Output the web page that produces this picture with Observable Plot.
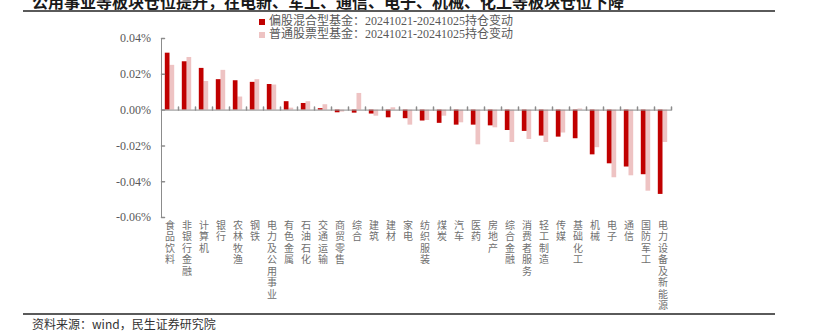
<!DOCTYPE html>
<html>
<head>
<meta charset="utf-8">
<script src="https://cdn.jsdelivr.net/npm/d3@7"></script>
<script src="https://cdn.jsdelivr.net/npm/@observablehq/plot@0.6"></script>
<style>
  body { margin: 0; background: #fff; }
  #wrap { position: relative; width: 822px; height: 333px; overflow: hidden; background: #fff; }
  #title { position: absolute; left: 32px; top: -7px; font: bold 16px/16px "Noto Sans CJK SC", sans-serif; color: #1a1a1a; white-space: nowrap; }
  .rule { position: absolute; left: 23px; width: 752px; height: 2px; background: #5a5a5a; }
  #chart { position: absolute; left: 0; top: 0; }
  .leg { position: absolute; left: 259px; font: 12px/13px "Liberation Serif", "Noto Sans CJK SC", serif; color: #595959; white-space: nowrap; display: flex; align-items: center; }
  .leg i { display: inline-block; width: 6px; height: 6px; margin-right: 4px; }
  #source { position: absolute; left: 32px; top: 317px; font: 12px/14px "Noto Sans CJK SC", sans-serif; color: #333; white-space: nowrap; }
</style>
</head>
<body>
<div id="wrap">
  <div id="title"></div>
  <div class="rule" style="top:10px"></div>
  <div id="chart"></div>
  <div class="leg" id="leg1" style="top:15px"></div>
  <div class="leg" id="leg2" style="top:28px"></div>
  <div class="rule" style="top:313px"></div>
  <div id="source"></div>
</div>
<script>
const titleText = "公用事业等板块仓位提升，在电新、军工、通信、电子、机械、化工等板块仓位下降";
const sourceText = "资料来源：wind，民生证券研究院";
const seriesNames = ["偏股混合型基金：20241021-20241025持仓变动", "普通股票型基金：20241021-20241025持仓变动"];
const seriesColors = ["#C00000", "#EEC3C3"];

const categories = ["食品饮料","非银行金融","计算机","银行","农林牧渔","钢铁","电力及公用事业","有色金属","石油石化","交通运输","商贸零售","综合","建筑","建材","家电","纺织服装","煤炭","汽车","医药","房地产","综合金融","消费者服务","轻工制造","传媒","基础化工","机械","电子","通信","国防军工","电力设备及新能源"];

// values in percent (0.04 means 0.04%)
const fundMixed = [0.0318, 0.0270, 0.0233, 0.0170, 0.0164, 0.0155, 0.0143, 0.0047, 0.0037, 0.0008, -0.0015, -0.0017, -0.0022, -0.0043, -0.0048, -0.0061, -0.0074, -0.0084, -0.0084, -0.0088, -0.0114, -0.0119, -0.0145, -0.0151, -0.0160, -0.0250, -0.0300, -0.0318, -0.0361, -0.0471];
const fundStock = [0.0250, 0.0294, 0.0160, 0.0222, 0.0073, 0.0170, 0.0140, 0.0011, 0.0047, 0.0030, -0.0011, 0.0093, -0.0034, 0.0013, -0.0084, -0.0058, -0.0034, -0.0071, -0.0194, -0.0099, -0.0181, -0.0164, -0.0181, -0.0128, 0.0006, -0.0210, -0.0378, -0.0367, -0.0453, -0.0181];

const yTicks = [0.04, 0.02, 0, -0.02, -0.04, -0.06];

document.getElementById("title").textContent = titleText;
document.getElementById("source").textContent = sourceText;
[["leg1", 0], ["leg2", 1]].forEach(([id, k]) => {
  const el = document.getElementById(id);
  const sw = document.createElement("i");
  sw.style.background = seriesColors[k];
  el.appendChild(sw);
  el.appendChild(document.createTextNode(seriesNames[k]));
});

const axisGray = "#8c8c8c";
const tickShape = { draw(context, l) { context.moveTo(0, 0); context.lineTo(0, -l); } };

const chart = Plot.plot({
  width: 822,
  height: 310,
  marginTop: 38,
  marginBottom: 93,
  marginLeft: 161,
  marginRight: 151,
  x: { domain: categories, padding: 0, axis: null },
  y: { domain: [-0.06, 0.04], axis: null },
  style: { background: "transparent", overflow: "visible" },
  marks: [
    Plot.barY(categories, { x: d => d, y: (d, i) => fundStock[i], fill: seriesColors[1], insetLeft: 8.5, insetRight: 3.8 }),
    Plot.barY(categories, { x: d => d, y: (d, i) => fundMixed[i], fill: seriesColors[0], insetLeft: 3.8, insetRight: 8.5 }),
    Plot.frame({ anchor: "left", stroke: axisGray }),
    Plot.ruleY([0], { stroke: axisGray }),
    Plot.vector(categories, { x: d => d, y: () => 0, dx: 8.5, length: 3, rotate: 0, anchor: "start", shape: tickShape, stroke: axisGray }),
    Plot.vector(yTicks, { x: () => categories[0], y: d => d, dx: -8.5, length: 3, rotate: 90, anchor: "start", shape: tickShape, stroke: axisGray }),
    Plot.axisY(yTicks, { anchor: "left", tickSize: 0, tickPadding: 10.5, tickFormat: d => d.toFixed(2) + "%", fontSize: 12, fontFamily: "Liberation Serif", fill: "#595959" }),
    Plot.axisX({ anchor: "bottom", tickSize: 0, tickPadding: 3, tickFormat: d => [...d].join("\n"), lineHeight: 1.15, fontSize: 10, fontFamily: "Noto Sans CJK SC", fill: "#707070" })
  ]
});
document.getElementById("chart").appendChild(chart);
</script>
</body>
</html>
